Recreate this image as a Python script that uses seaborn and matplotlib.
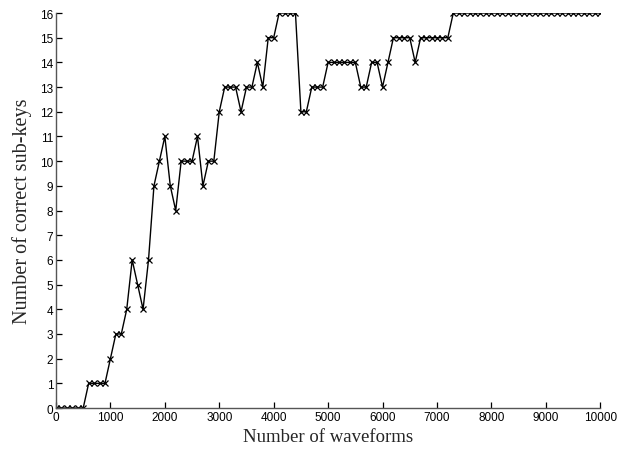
import pandas as pd
import matplotlib.pyplot as plt
import seaborn as sns

# number of waveforms (one point every 100)
waveforms = list(range(0, 10001, 100))

# correct sub-keys, ten points per row
correct_keys = [
    0, 0, 0, 0, 0, 0, 1, 1, 1, 1,
    2, 3, 3, 4, 6, 5, 4, 6, 9, 10,
    11, 9, 8, 10, 10, 10, 11, 9, 10, 10,
    12, 13, 13, 13, 12, 13, 13, 14, 13, 15,
    15, 16, 16, 16, 16, 12, 12, 13, 13, 13,
    14, 14, 14, 14, 14, 14, 13, 13, 14, 14,
    13, 14, 15, 15, 15, 15, 14, 15, 15, 15,
    15, 15, 15, 16, 16, 16, 16, 16, 16, 16,
    16, 16, 16, 16, 16, 16, 16, 16, 16, 16,
    16, 16, 16, 16, 16, 16, 16, 16, 16, 16,
    16,
]

x_ticks = [0, 1000, 2000, 3000, 4000, 5000, 6000, 7000, 8000, 9000, 10000]
y_ticks = list(range(0, 17))

data = pd.DataFrame({"waveforms": waveforms, "keys": correct_keys})

sns.set_style("ticks")
plt.rcParams["font.family"] = ["Liberation Sans", "DejaVu Sans"]

fig = plt.figure(figsize=(6.27, 4.52), dpi=100)
ax = fig.add_axes([0.0893, 0.095, 0.868, 0.874])

sns.lineplot(x="waveforms", y="keys", data=data, ax=ax, color="black",
             linewidth=1.0, marker="x", markersize=4, markeredgewidth=0.9,
             markeredgecolor="black")

ax.set_xlim(0, 10000)
ax.set_ylim(0, 16)
ax.set_xticks(x_ticks)
ax.set_yticks(y_ticks)
ax.tick_params(direction="in", length=4, width=0.9, labelsize=8.5,
               colors="black", pad=2)
for side in ["top", "right"]:
    ax.spines[side].set_visible(False)
for side in ["left", "bottom"]:
    ax.spines[side].set_color("#555555")
    ax.spines[side].set_linewidth(1.0)

ax.set_xlabel("Number of waveforms", family="Liberation Serif", fontsize=13.5,
              labelpad=4)
ax.set_ylabel("Number of correct sub-keys", family="Liberation Serif",
              fontsize=14.5, labelpad=6)

fig.savefig("out.png", dpi=100)
